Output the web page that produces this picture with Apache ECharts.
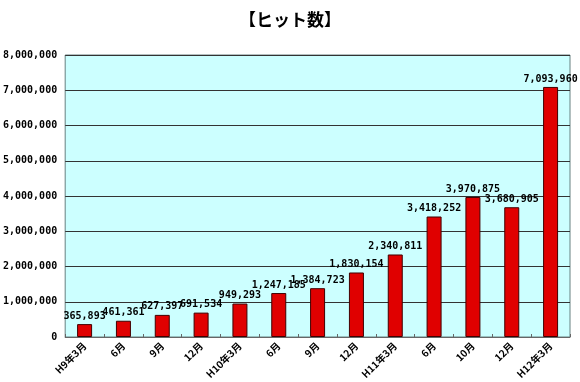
<!DOCTYPE html>
<html><head><meta charset="utf-8">
<script src="https://cdn.jsdelivr.net/npm/echarts@6/dist/echarts.min.js"></script>
<style>html,body{margin:0;padding:0;background:#fff}#c{width:580px;height:382px}</style>
</head><body><div id="c"></div>
<script>
const categories = ["H9年3月","6月","9月","12月","H10年3月","6月","9月","12月","H11年3月","6月","10月","12月","H12年3月"];
const hits = [365893,461361,627397,691534,949293,1247185,1384723,1830154,2340811,3418252,3970875,3680905,7093960];
const yTicks = [0,1000000,2000000,3000000,4000000,5000000,6000000,7000000,8000000];

const fmt = v => v.toLocaleString('en-US');
const chart = echarts.init(document.getElementById('c'));
chart.setOption({
  animation: false,
  title: {text: '【ヒット数】', left: 'center', top: 6,
    textStyle: {fontFamily: 'Noto Sans CJK JP', fontSize: 17, fontWeight: 'bold', color: '#000'}},
  grid: {left: 62, right: 10, top: 55, bottom: 45, containLabel: false,
    show: true, backgroundColor: '#ccffff', borderColor: '#668080', borderWidth: 1},
  xAxis: {type: 'category', data: categories,
    axisLine: {lineStyle: {color: '#666'}},
    axisTick: {show: true, inside: true, lineStyle: {color: '#666'}, length: 3},
    axisLabel: {rotate: 45, interval: 0, fontSize: 10, fontWeight: 'bold', color: '#000',
      fontFamily: 'Noto Sans CJK JP', margin: 7}},
  yAxis: {type: 'value', min: yTicks[0], max: yTicks[yTicks.length-1], interval: 1000000,
    axisLine: {show: false}, axisTick: {show: false},
    splitLine: {lineStyle: {color: '#333', width: 1}},
    axisLabel: {formatter: v => fmt(v), fontSize: 10, fontWeight: 'bold', color: '#000',
      fontFamily: 'DejaVu Sans Mono', margin: 8}},
  series: [{type: 'bar', data: hits, barWidth: 15,
    itemStyle: {color: '#e00000', borderColor: '#400000', borderWidth: 1},
    label: {show: true, position: 'top', distance: 3, formatter: p => fmt(p.value),
      fontSize: 10, fontWeight: 'bold', color: '#000', fontFamily: 'DejaVu Sans Mono'}}]
});
</script></body></html>
